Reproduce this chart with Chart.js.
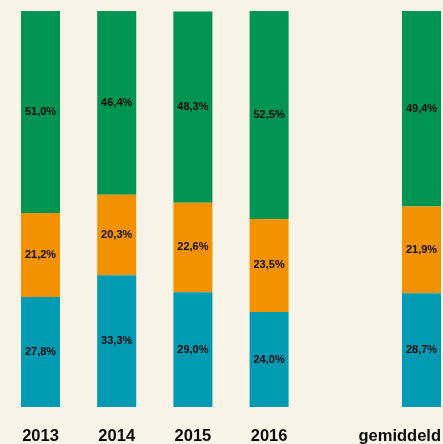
<!DOCTYPE html>
<html>
<head>
<meta charset="utf-8">
<script src="https://cdn.jsdelivr.net/npm/chart.js@4/dist/chart.umd.min.js"></script>
<style>
  html, body { margin: 0; padding: 0; background: #f7f3e6; overflow: hidden; }
  #wrap { width: 443px; height: 444px; overflow: hidden; }
</style>
</head>
<body>
<div id="wrap"><canvas id="chart" width="462" height="444"></canvas></div>
<script>
const categories = ['2013', '2014', '2015', '2016', '', 'gemiddeld'];
const tealValues = [27.8, 33.3, 29.0, 24.0, null, 28.7];
const orangeValues = [21.2, 20.3, 22.6, 23.5, null, 21.9];
const greenValues = [51.0, 46.4, 48.3, 52.5, null, 49.4];

const FONT = '"Liberation Sans", Arial, sans-serif';

// draws the percentage inside each segment
const segmentLabels = {
  id: 'segmentLabels',
  afterDatasetsDraw(chart) {
    const ctx = chart.ctx;
    ctx.save();
    ctx.font = 'bold 11px ' + FONT;
    ctx.fillStyle = '#0a0a0a';
    ctx.textAlign = 'center';
    ctx.textBaseline = 'middle';
    chart.data.datasets.forEach((ds, i) => {
      chart.getDatasetMeta(i).data.forEach((bar, j) => {
        const v = ds.data[j];
        if (v == null) return;
        const mid = (bar.y + bar.base) / 2;
        ctx.fillText(v.toFixed(1).replace('.', ',') + '%', bar.x, mid);
      });
    });
    ctx.restore();
  }
};

// category labels under the bars, kept inside the visible 443px
const categoryLabels = {
  id: 'categoryLabels',
  afterDraw(chart) {
    const ctx = chart.ctx;
    const xs = chart.scales.x;
    ctx.save();
    ctx.font = 'bold 16.5px ' + FONT;
    ctx.fillStyle = '#0a0a0a';
    ctx.textAlign = 'left';
    ctx.textBaseline = 'alphabetic';
    chart.data.labels.forEach((lab, i) => {
      if (!lab) return;
      const w = ctx.measureText(lab).width;
      let left = xs.getPixelForValue(i) - w / 2;
      if (left + w > 441) left = 441 - w;
      ctx.fillText(lab, left, chart.chartArea.bottom + 34);
    });
    ctx.restore();
  }
};

new Chart(document.getElementById('chart'), {
  type: 'bar',
  data: {
    labels: categories,
    datasets: [
      { label: 'teal', data: tealValues, backgroundColor: '#009ab3' },
      { label: 'orange', data: orangeValues, backgroundColor: '#f39200' },
      { label: 'green', data: greenValues, backgroundColor: '#009452' }
    ]
  },
  options: {
    responsive: false,
    animation: false,
    layout: { padding: { top: 11, left: 2.4, right: 2.4, bottom: 37 } },
    datasets: { bar: { categoryPercentage: 1, barPercentage: 0.512 } },
    plugins: { legend: { display: false }, tooltip: { enabled: false } },
    scales: {
      x: { stacked: true, display: false },
      y: { stacked: true, display: false, min: 0, max: 100 }
    }
  },
  plugins: [segmentLabels, categoryLabels]
});
</script>
</body>
</html>
